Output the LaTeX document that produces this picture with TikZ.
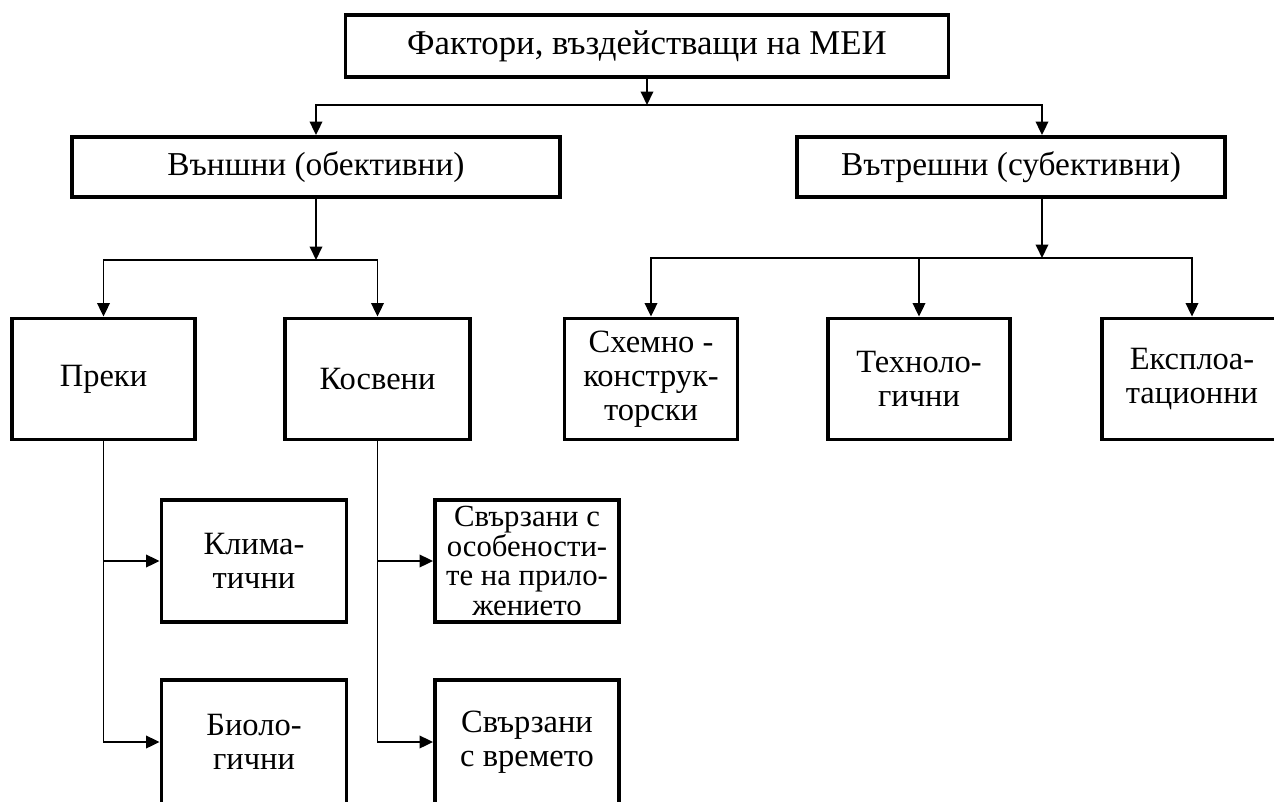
\documentclass[tikz,border=0pt]{standalone}
\usepackage{fontspec}
\setmainfont{Liberation Serif}
\usetikzlibrary{arrows.meta, positioning}

\begin{document}
\begin{tikzpicture}[
  x=0.02cm, y=-0.02cm,
  block/.style={
    rectangle,
    draw=black,
    line width=2.2pt,
    align=center,
    inner sep=0pt,
    fill=white,
    font=\fontsize{18.5}{19.5}\selectfont
  },
  arrow/.style={-{Triangle[length=0.27cm, width=0.25cm]}, line width=1.1pt, draw=black},
]
\useasboundingbox (0,0) rectangle (1274,801);

% top level
\node[block, minimum width=12.06cm, minimum height=1.24cm,
      font=\fontsize{19.8}{20}\selectfont] (top) at (647,46) {Фактори, въздействащи на МЕИ};
\node[block, minimum width=9.76cm, minimum height=1.2cm,
      font=\fontsize{19}{20}\selectfont] (ext) at (316,167) {Външни (обективни)};
\node[block, minimum width=8.56cm, minimum height=1.2cm,
      font=\fontsize{19}{20}\selectfont] (intf) at (1011,167) {Вътрешни (субективни)};

% second level
\node[block, minimum width=3.66cm, minimum height=2.42cm] (preki) at (103.5,379) {Преки};
\node[block, minimum width=3.7cm, minimum height=2.42cm] (kosv) at (377.5,379) {Косвени};
\node[block, minimum width=3.46cm, minimum height=2.42cm] (shem) at (651,379) {Схемно -\\конструк-\\торски};
\node[block, minimum width=3.64cm, minimum height=2.42cm] (tech) at (919,379) {Техноло-\\гични};
\node[block, minimum width=3.6cm, minimum height=2.42cm] (eksp) at (1192,379) {Експлоа-\\тационни};

% third level
\node[block, minimum width=3.7cm, minimum height=2.44cm] (klim) at (254,561) {Клима-\\тични};
\node[block, minimum width=3.7cm, minimum height=2.48cm] (bio) at (254,742) {Биоло-\\гични};
\node[block, minimum width=3.68cm, minimum height=2.44cm,
      font=\fontsize{17.5}{17}\selectfont] (osob) at (527,561) {Свързани с\\особености-\\те на прило-\\жението};
\node[block, minimum width=3.68cm, minimum height=2.48cm] (vrem) at (527,742) {Свързани\\с времето};

% bus points
\coordinate (bus0) at (647,105);
\coordinate (bus1) at (316,260);
\coordinate (bus2) at (1042,258);

\draw[arrow] (top) -- (bus0);
\draw[arrow] (bus0) -| (ext);
\draw[arrow] (bus0) -| ([xshift=0.62cm]intf.north);

\draw[arrow] (ext) -- (bus1);
\draw[arrow] (bus1) -| (preki);
\draw[arrow] (bus1) -| (kosv);

\draw[arrow] ([xshift=0.62cm]intf.south) -- (bus2);
\draw[arrow] (bus2) -| (shem);
\draw[arrow] (bus2) -| (tech);
\draw[arrow] (bus2) -| (eksp);

\draw[arrow] (preki.south) |- (klim);
\draw[arrow] (preki.south) |- (bio);
\draw[arrow] (kosv.south) |- (osob);
\draw[arrow] (kosv.south) |- (vrem);

\end{tikzpicture}
\end{document}
